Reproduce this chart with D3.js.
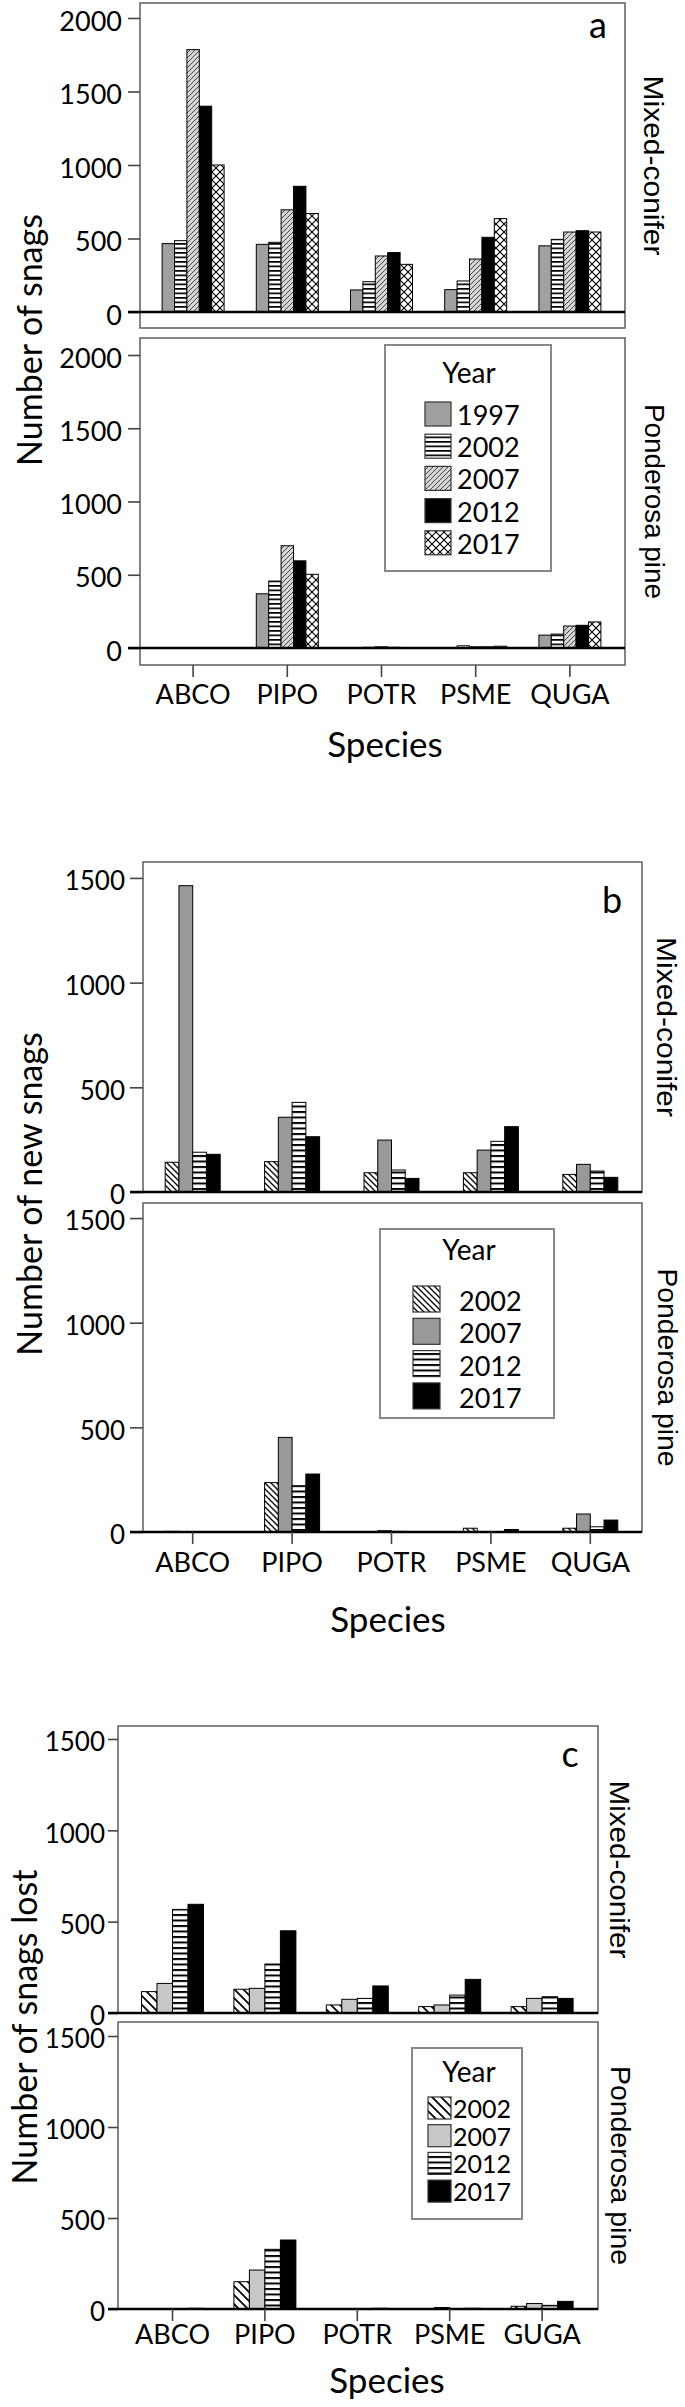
<!DOCTYPE html>
<html lang="en">
<head>
<meta charset="utf-8">
<script src="https://d3js.org/d3.v7.min.js"></script>
<style>
  body { margin: 0; background: #fff; }
  svg text { font-family: Lato, "Open Sans", sans-serif; fill: #000; }
  svg text.side { font-family: "Liberation Sans", Arial, sans-serif; }
</style>
</head>
<body>
<div id="chart"></div>
<script>
// x categories (panel c prints GUGA for the last one)
var species = ["ABCO", "PIPO", "POTR", "PSME", "QUGA"];
var speciesC = ["ABCO", "PIPO", "POTR", "PSME", "GUGA"];
var yearsA = ["1997", "2002", "2007", "2012", "2017"];
var yearsBC = ["2002", "2007", "2012", "2017"];
var ticksA = [0, 500, 1000, 1500, 2000];
var ticksBC = [0, 500, 1000, 1500];

// rows = year, columns = species
var snagsMixed = [
  [465, 460, 150, 152, 450],
  [485, 474, 206, 211, 494],
  [1785, 695, 381, 360, 544],
  [1400, 855, 404, 508, 553],
  [1000, 670, 324, 635, 544]
];
var snagsPonderosa = [
  [0, 370, 0, 3, 88],
  [0, 457, 5, 15, 95],
  [0, 698, 8, 8, 150],
  [0, 595, 5, 8, 155],
  [0, 503, 0, 12, 178]
];
var newMixed = [
  [142, 145, 92, 92, 84],
  [1463, 357, 248, 200, 132],
  [190, 428, 105, 242, 100],
  [180, 264, 65, 312, 70]
];
var newPonderosa = [
  [3, 236, 2, 18, 18],
  [2, 452, 6, 2, 86],
  [2, 221, 3, 2, 25],
  [2, 277, 2, 12, 57]
];
var lostMixed = [
  [117, 130, 44, 35, 35],
  [162, 135, 75, 44, 80],
  [567, 268, 80, 98, 89],
  [595, 450, 148, 184, 80]
];
var lostPonderosa = [
  [0, 150, 2, 2, 15],
  [0, 214, 2, 8, 30],
  [0, 328, 2, 2, 20],
  [4, 379, 4, 4, 42]
];

var svg = d3.select("#chart").append("svg")
    .attr("width", 685)
    .attr("height", 2407);

var defs = svg.append("defs");

// horizontal stripes
function stripes(id, period, thick) {
    var p = defs.append("pattern").attr("id", id)
        .attr("patternUnits", "userSpaceOnUse")
        .attr("width", 10).attr("height", period);
    p.append("rect").attr("width", 10).attr("height", period).attr("fill", "#fff");
    p.append("rect").attr("width", 10).attr("height", thick).attr("fill", "#000");
}
// diagonal hatching, forward = "/" else "\"
function hatch(id, s, bg, fg, sw, forward) {
    var p = defs.append("pattern").attr("id", id)
        .attr("patternUnits", "userSpaceOnUse")
        .attr("width", s).attr("height", s);
    p.append("rect").attr("width", s).attr("height", s).attr("fill", bg);
    var d = forward
        ? "M0," + s + "L" + s + ",0M-1,1L1,-1M" + (s - 1) + "," + (s + 1) + "L" + (s + 1) + "," + (s - 1)
        : "M0,0L" + s + "," + s + "M-1," + (s - 1) + "L1," + (s + 1) + "M" + (s - 1) + ",-1L" + (s + 1) + ",1";
    p.append("path").attr("d", d).attr("stroke", fg).attr("stroke-width", sw);
}
function cross(id, s) {
    var p = defs.append("pattern").attr("id", id)
        .attr("patternUnits", "userSpaceOnUse")
        .attr("width", s).attr("height", s);
    p.append("rect").attr("width", s).attr("height", s).attr("fill", "#fff");
    p.append("path").attr("d", "M0,0L" + s + "," + s + "M" + s + ",0L0," + s)
        .attr("stroke", "#000").attr("stroke-width", 1.1);
}
stripes("hsA", 4.5, 1.7);
stripes("hsB", 5.5, 2);
hatch("fwdA", 5, "#d6d6d6", "#444", 1, true);
hatch("bsB", 6, "#fff", "#000", 1.3, false);
hatch("bsC", 9, "#fff", "#000", 1.8, false);
cross("crossA", 8);

var panels = [
  { letter: "a", letterPos: [598, 38], years: yearsA, species: species, ticks: ticksA,
    frame: [140, 625], band: [146, 617], groupW: 62,
    fills: ["#a0a0a0", "url(#hsA)", "url(#fwdA)", "#000", "url(#crossA)"],
    tickLen: 12, tickPad: 6, xPad: 8, tickFont: 27, legendFont: 27,
    subs: [
      { name: "Mixed-conifer", data: snagsMixed, top: 3, bottom: 328, domain: [-109, 2102], labelX: 654, labelLen: 180 },
      { name: "Ponderosa pine", data: snagsPonderosa, top: 338, bottom: 665, domain: [-116, 2116], labelX: 655, labelLen: 195 }
    ],
    yTitle: "Number of snags", yTitlePos: [42, 340], xTitlePos: [385, 757],
    legend: { box: [385, 345, 166, 226], titleY: 383, swX: 425, swW: 26, swH: 24, firstTop: 402, step: 32.2, labelX: 457 }
  },
  { letter: "b", letterPos: [612, 913], years: yearsBC, species: species, ticks: ticksBC,
    frame: [143, 642], band: [143, 640], groupW: 55,
    fills: ["url(#bsB)", "#999", "url(#hsB)", "#000"],
    tickLen: 13, tickPad: 5, xPad: 9, tickFont: 26, legendFont: 27,
    subs: [
      { name: "Mixed-conifer", data: newMixed, top: 862, bottom: 1192, domain: [0, 1576], labelX: 667, labelLen: 180 },
      { name: "Ponderosa pine", data: newPonderosa, top: 1203, bottom: 1532, domain: [0, 1572], labelX: 668, labelLen: 198 }
    ],
    yTitle: "Number of new snags", yTitlePos: [42, 1194], xTitlePos: [388, 1632],
    legend: { box: [380, 1229, 174, 189], titleY: 1260, swX: 413, swW: 27, swH: 26, firstTop: 1286, step: 32.3, labelX: 459 }
  },
  { letter: "c", letterPos: [570, 1767], years: yearsBC, species: speciesC, ticks: ticksBC,
    frame: [118, 598], band: [126.3, 588.3], groupW: 62,
    fills: ["url(#bsC)", "#c8c8c8", "url(#hsB)", "#000"],
    tickLen: 10, tickPad: 3, xPad: 4, tickFont: 26, legendFont: 25,
    subs: [
      { name: "Mixed-conifer", data: lostMixed, top: 1726, bottom: 2013, domain: [0, 1571], labelX: 620, labelLen: 178 },
      { name: "Ponderosa pine", data: lostPonderosa, top: 2022, bottom: 2309, domain: [0, 1577], labelX: 621, labelLen: 199 }
    ],
    yTitle: "Number of snags lost", yTitlePos: [37, 2027], xTitlePos: [387, 2393],
    legend: { box: [412, 2048, 110, 171], titleY: 2082, swX: 428, swW: 23, swH: 22, firstTop: 2097, step: 27.7, labelX: 453 }
  }
];

function drawPanel(p) {
    var g = svg.append("g");
    var x = d3.scaleBand().domain(p.species).range(p.band);
    var xi = d3.scaleBand().domain(p.years).range([0, p.groupW]);
    var fw = p.frame[1] - p.frame[0];

    p.subs.forEach(function(s) {
        var y = d3.scaleLinear().domain(s.domain).range([s.bottom, s.top]);

        g.append("rect")
            .attr("x", p.frame[0]).attr("y", s.top)
            .attr("width", fw).attr("height", s.bottom - s.top)
            .attr("fill", "none").attr("stroke", "#666").attr("stroke-width", 1.6);

        var ax = g.append("g")
            .attr("transform", "translate(" + p.frame[0] + ",0)")
            .call(d3.axisLeft(y).tickValues(p.ticks).tickSize(p.tickLen).tickPadding(p.tickPad).tickFormat(d3.format("d")));
        ax.select(".domain").remove();
        ax.selectAll("line").attr("stroke", "#444").attr("stroke-width", 1.6);
        ax.selectAll("text").style("font-size", p.tickFont + "px").attr("dy", "0.45em");

        s.data.forEach(function(vals, i) {
            g.selectAll(null)
                .data(vals.map(function(v, j) { return { sp: p.species[j], v: v }; }).filter(function(d) { return d.v > 0; }))
                .enter().append("rect")
                .attr("x", function(d) { return x(d.sp) + x.bandwidth() / 2 - p.groupW / 2 + xi(p.years[i]); })
                .attr("y", function(d) { return y(d.v); })
                .attr("width", xi.bandwidth())
                .attr("height", function(d) { return y(0) - y(d.v); })
                .attr("fill", p.fills[i])
                .attr("stroke", "#000")
                .attr("stroke-width", 1);
        });

        // zero reference line
        g.append("line")
            .attr("x1", p.frame[0] - p.tickLen).attr("x2", p.frame[1])
            .attr("y1", y(0)).attr("y2", y(0))
            .attr("stroke", "#000").attr("stroke-width", 2.6);

        // panel strip label on the right
        g.append("text")
            .attr("class", "side")
            .attr("transform", "translate(" + s.labelX + "," + (s.top + s.bottom) / 2 + ") rotate(90)")
            .attr("text-anchor", "middle")
            .attr("dy", "0.35em")
            .attr("textLength", s.labelLen)
            .attr("lengthAdjust", "spacingAndGlyphs")
            .style("font-size", "28px")
            .text(s.name);
    });

    var last = p.subs[p.subs.length - 1];
    var xa = g.append("g")
        .attr("transform", "translate(0," + last.bottom + ")")
        .call(d3.axisBottom(x).tickSize(12).tickPadding(p.xPad));
    xa.select(".domain").remove();
    xa.selectAll("line").attr("stroke", "#444").attr("stroke-width", 1.6);
    xa.selectAll("text").style("font-size", "27px");

    g.append("text")
        .attr("x", p.xTitlePos[0]).attr("y", p.xTitlePos[1])
        .attr("text-anchor", "middle")
        .style("font-size", "35px")
        .text("Species");

    g.append("text")
        .attr("transform", "translate(" + p.yTitlePos[0] + "," + p.yTitlePos[1] + ") rotate(-90)")
        .attr("text-anchor", "middle")
        .style("font-size", "34px")
        .text(p.yTitle);

    g.append("text")
        .attr("x", p.letterPos[0]).attr("y", p.letterPos[1])
        .attr("text-anchor", "middle")
        .style("font-size", "36px")
        .text(p.letter);

    // legend
    var L = p.legend;
    var lg = g.append("g");
    lg.append("rect")
        .attr("x", L.box[0]).attr("y", L.box[1])
        .attr("width", L.box[2]).attr("height", L.box[3])
        .attr("fill", "#fff").attr("stroke", "#888").attr("stroke-width", 2);
    lg.append("text")
        .attr("x", 469).attr("y", L.titleY)
        .attr("text-anchor", "middle")
        .style("font-size", "28px")
        .text("Year");
    var items = lg.selectAll("g.item").data(p.years).enter().append("g").attr("class", "item");
    items.append("rect")
        .attr("x", L.swX)
        .attr("y", function(d, i) { return L.firstTop + i * L.step; })
        .attr("width", L.swW).attr("height", L.swH)
        .attr("fill", function(d, i) { return p.fills[i]; })
        .attr("stroke", "#333").attr("stroke-width", 1.2);
    items.append("text")
        .attr("x", L.labelX)
        .attr("y", function(d, i) { return L.firstTop + i * L.step + L.swH - 1; })
        .style("font-size", p.legendFont + "px")
        .text(function(d) { return d; });
}

panels.forEach(drawPanel);
</script>
</body>
</html>
